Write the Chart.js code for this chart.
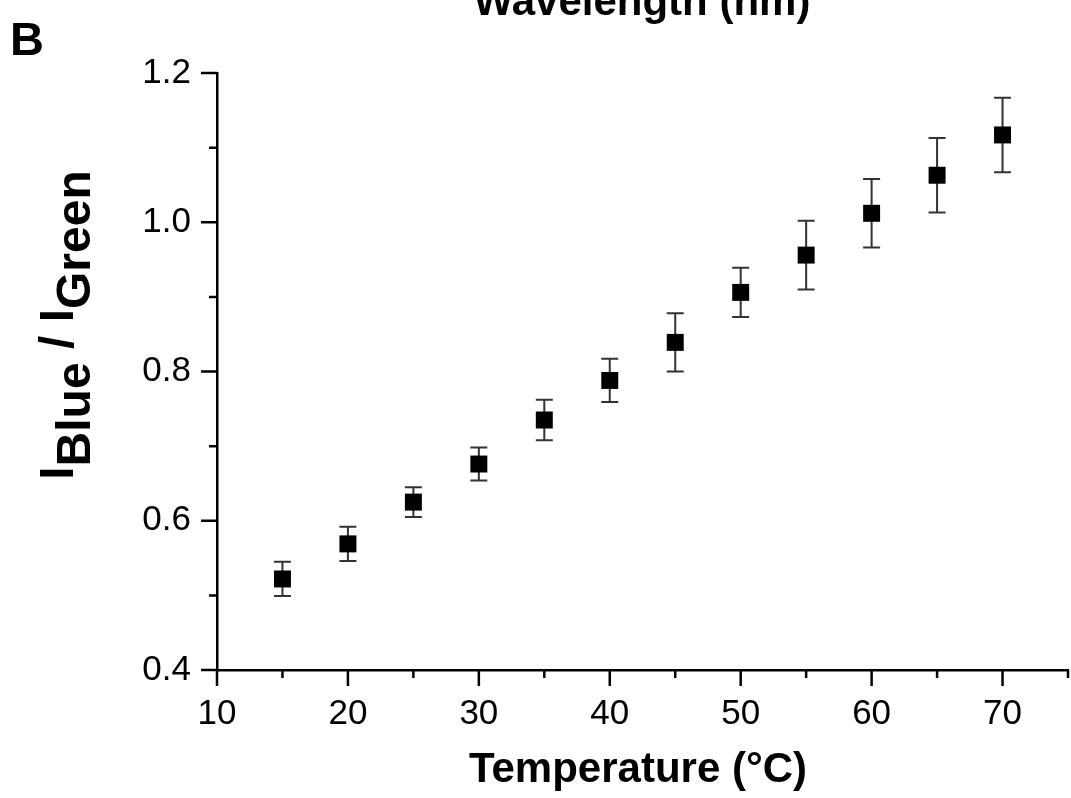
<!DOCTYPE html>
<html>
<head>
<meta charset="utf-8">
<script src="https://cdn.jsdelivr.net/npm/chart.js@4"></script>
<style>
  body { margin: 0; background: #fff; }
  #wrap { width: 1071px; height: 798px; position: relative; }
</style>
</head>
<body>
<div id="wrap"><canvas id="ratioChart"></canvas></div>
<script>
// data
const temperatures = [15, 20, 25, 30, 35, 40, 45, 50, 55, 60, 65, 70];
const ratioValues = [0.522, 0.569, 0.625, 0.676, 0.735, 0.788, 0.839, 0.906, 0.956, 1.012, 1.063, 1.117];
const ratioErrors = [0.023, 0.023, 0.020, 0.022, 0.027, 0.029, 0.039, 0.033, 0.046, 0.046, 0.050, 0.050];
const xTickLabels = [10, 20, 30, 40, 50, 60, 70];
const yTickLabels = [0.4, 0.6, 0.8, 1.0, 1.2];

const FONT = "'Liberation Sans', Arial, sans-serif";

// error bars behind the squares
const errorBars = {
    id: 'errorBars',
    beforeDatasetsDraw(chart) {
        const ctx = chart.ctx;
        const x = chart.scales.x, y = chart.scales.y;
        ctx.save();
        ctx.strokeStyle = '#333';
        ctx.lineWidth = 2;
        temperatures.forEach((t, i) => {
            let px = x.getPixelForValue(t);
            let top = y.getPixelForValue(ratioValues[i] + ratioErrors[i]);
            let bot = y.getPixelForValue(ratioValues[i] - ratioErrors[i]);
            ctx.beginPath();
            ctx.moveTo(px, top); ctx.lineTo(px, bot);
            ctx.moveTo(px - 8.5, top); ctx.lineTo(px + 8.5, top);
            ctx.moveTo(px - 8.5, bot); ctx.lineTo(px + 8.5, bot);
            ctx.stroke();
        });
        ctx.restore();
    }
};

// outward major / minor tick marks
const tickMarks = {
    id: 'tickMarks',
    afterDraw(chart) {
        const ctx = chart.ctx;
        const x = chart.scales.x, y = chart.scales.y;
        const area = chart.chartArea;
        ctx.save();
        ctx.strokeStyle = '#000';
        ctx.lineWidth = 2.5;
        ctx.beginPath();
        for (let v = 10; v <= 75; v += 5) {
            let px = x.getPixelForValue(v);
            let len = v % 10 === 0 ? 16 : 8;
            ctx.moveTo(px, area.bottom); ctx.lineTo(px, area.bottom + len);
        }
        for (let k = 4; k <= 12; k++) {
            let py = y.getPixelForValue(k / 10);
            let len = k % 2 === 0 ? 16 : 8;
            ctx.moveTo(area.left, py); ctx.lineTo(area.left - len, py);
        }
        ctx.stroke();
        ctx.restore();
    }
};

// titles, y title has subscripts so it is drawn by hand
const labels = {
    id: 'labels',
    afterDraw(chart) {
        const ctx = chart.ctx;
        ctx.save();
        ctx.fillStyle = '#000';
        ctx.textBaseline = 'alphabetic';

        ctx.font = 'bold 42px ' + FONT;
        ctx.textAlign = 'center';
        ctx.fillText('Temperature (°C)', 638, 782);
        ctx.fillText('Wavelength (nm)', 642, 15);

        ctx.font = 'bold 47px ' + FONT;
        ctx.textAlign = 'left';
        ctx.fillText('B', 10, 55);

        // I_Blue / I_Green, rotated
        ctx.font = 'bold 48px ' + FONT;
        const parts = [['I', 0], ['Blue', 17], [' / ', 0], ['I', 0], ['Green', 17]];
        let total = parts.reduce((s, p) => s + ctx.measureText(p[0]).width, 0);
        ctx.translate(73, 325);
        ctx.rotate(-Math.PI / 2);
        let cx = -total / 2;
        parts.forEach(p => {
            ctx.fillText(p[0], cx, p[1]);
            cx += ctx.measureText(p[0]).width;
        });
        ctx.restore();
    }
};

let ctx = document.getElementById('ratioChart');
new Chart(ctx, {
    type: 'scatter',
    data: {
        datasets: [{
            data: temperatures.map((t, i) => ({ x: t, y: ratioValues[i] })),
            pointStyle: 'rect',
            pointRadius: 12,
            backgroundColor: '#000',
            borderColor: '#000',
            borderWidth: 0,
            clip: false
        }]
    },
    options: {
        responsive: true,
        maintainAspectRatio: false,
        animation: false,
        layout: { autoPadding: false, padding: { top: 73, right: 3, left: 0, bottom: 0 } },
        plugins: {
            legend: { display: false },
            tooltip: { enabled: false }
        },
        scales: {
            x: {
                type: 'linear',
                min: 10,
                max: 75,
                afterBuildTicks: (scale) => { scale.ticks = xTickLabels.map(v => ({ value: v })); },
                afterFit: (scale) => {
                    scale.height = 128;
                    scale.paddingLeft = 0;
                    scale.paddingRight = 0;
                },
                grid: { display: false, drawTicks: false },
                border: { display: true, color: '#000', width: 2.5 },
                ticks: {
                    color: '#000',
                    padding: 23,
                    maxRotation: 0,
                    autoSkip: false,
                    font: { family: FONT, size: 35 }
                }
            },
            y: {
                type: 'linear',
                min: 0.4,
                max: 1.2,
                afterBuildTicks: (scale) => { scale.ticks = yTickLabels.map(v => ({ value: v })); },
                afterFit: (scale) => {
                    scale.width = 217;
                    scale.paddingTop = 0;
                    scale.paddingBottom = 0;
                },
                grid: { display: false, drawTicks: false },
                border: { display: true, color: '#000', width: 2.5 },
                ticks: {
                    color: '#000',
                    padding: 26,
                    autoSkip: false,
                    font: { family: FONT, size: 35 },
                    callback: (v) => Number(v).toFixed(1)
                }
            }
        }
    },
    plugins: [errorBars, tickMarks, labels]
});
</script>
</body>
</html>
